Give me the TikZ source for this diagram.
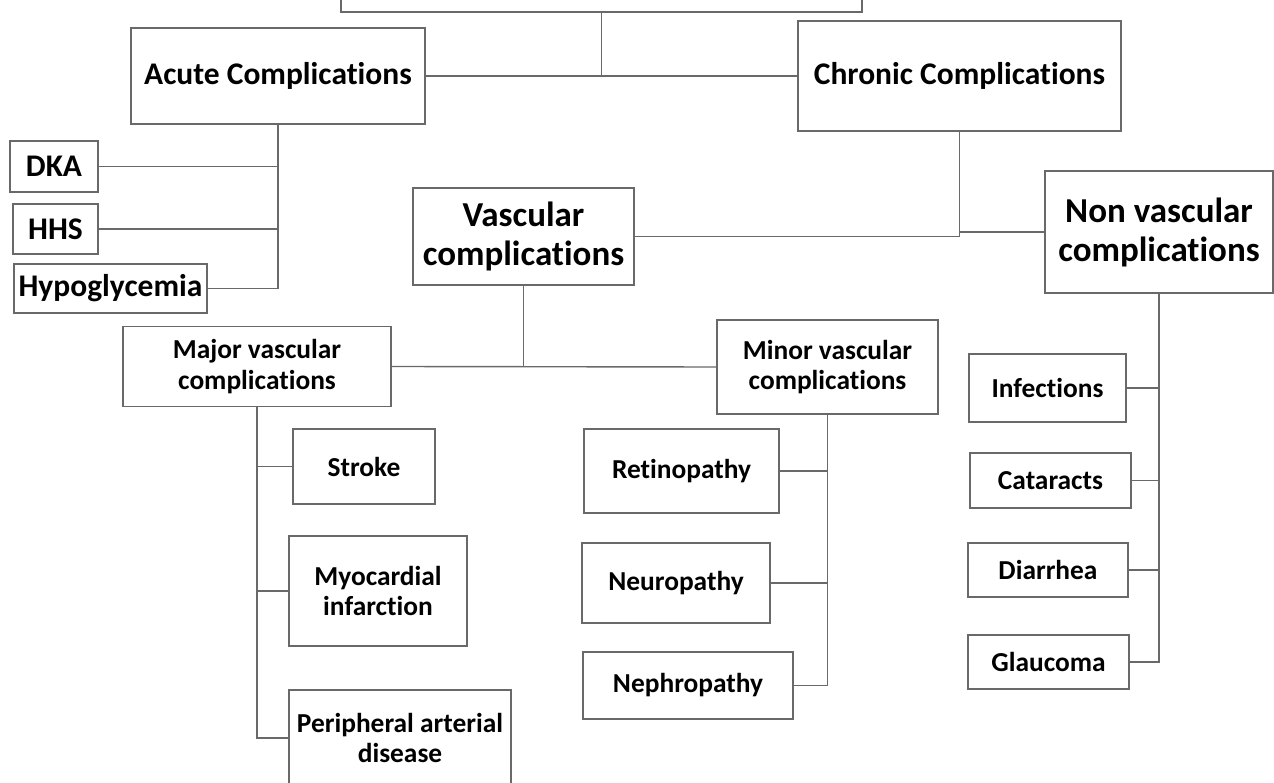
\documentclass[tikz,border=0pt]{standalone}
\usepackage{fontspec}
\setmainfont[Ligatures=NoCommon]{Carlito}
\definecolor{linec}{RGB}{105,105,105}
\begin{document}
\begin{tikzpicture}[x=1pt,y=-1pt,
  box/.style={draw=linec, line width=1.4pt, align=center, inner sep=0pt, text=black},
  fbig/.style={font=\bfseries\fontsize{35}{39}\selectfont},
  fmid/.style={font=\bfseries\fontsize{31.5}{35}\selectfont},
  fsml/.style={font=\bfseries\fontsize{27.4}{30.5}\selectfont},
  conn/.style={draw=linec, line width=1.4pt}]
\useasboundingbox (0,0) rectangle (1274,783);
% top box (cut off)
\node[box, minimum width=521pt, minimum height=112pt] (top) at (601.5,-44) {};
% level 1
\node[box, fmid, minimum width=294pt, minimum height=96pt] (acute) at (278,76) {Acute Complications};
\node[box, fmid, minimum width=323pt, minimum height=110pt] (chronic) at (959.5,76) {Chronic Complications};
% acute children
\node[box, fmid, minimum width=88pt, minimum height=51pt] (dka) at (54,166.5) {DKA};
\node[box, fmid, minimum width=85pt, minimum height=50pt] (hhs) at (55.5,229) {HHS};
\node[box, fmid, minimum width=193pt, minimum height=49pt] (hypo) at (110.5,288.5) {Hypoglycemia};
% chronic children
\node[box, fbig, minimum width=221pt, minimum height=97pt] (vasc) at (523.5,236.5) {Vascular\\complications};
\node[box, fbig, minimum width=228pt, minimum height=122pt] (nonvasc) at (1159,232) {Non vascular\\complications};
% vascular children
\node[box, fsml, minimum width=268pt, minimum height=80pt] (major) at (257,366.5) {Major vascular\\complications};
\node[box, fsml, minimum width=221pt, minimum height=94pt] (minor) at (827.5,367) {Minor vascular\\complications};
% major children
\node[box, fsml, minimum width=142pt, minimum height=75pt] (stroke) at (364,466.5) {Stroke};
\node[box, fsml, minimum width=178pt, minimum height=110pt] (myo) at (378,591) {Myocardial\\infarction};
\node[box, fsml, minimum width=222pt, minimum height=96pt] (pad) at (400,738) {Peripheral arterial\\disease};
% minor children
\node[box, fsml, minimum width=195pt, minimum height=84pt] (retino) at (681.5,471) {Retinopathy};
\node[box, fsml, minimum width=188pt, minimum height=80pt] (neuro) at (676,583) {Neuropathy};
\node[box, fsml, minimum width=210pt, minimum height=67pt] (nephro) at (688,685.5) {Nephropathy};
% non vascular children
\node[box, fsml, minimum width=157pt, minimum height=68pt] (infec) at (1047.5,388) {Infections};
\node[box, fsml, minimum width=161pt, minimum height=55pt] (catar) at (1050.5,480.5) {Cataracts};
\node[box, fsml, minimum width=160pt, minimum height=54pt] (diarr) at (1048,570) {Diarrhea};
\node[box, fsml, minimum width=161pt, minimum height=54pt] (glauc) at (1048.5,662) {Glaucoma};
% connectors
\draw[conn] (acute.east) -- (chronic.west);
\draw[conn] (top.south) -- (top.south |- acute.east);
\draw[conn] (acute.south) |- (hypo.east);
\draw[conn] (dka.east) -- (dka.east -| acute.south);
\draw[conn] (hhs.east) -- (hhs.east -| acute.south);
\draw[conn] (chronic.south) |- (vasc.east);
\draw[conn] (nonvasc.west) -- (nonvasc.west -| chronic.south);
\draw[conn] (major.east) -- (minor.west);
\draw[conn] (vasc.south) -- (vasc.south |- major.east);
\draw[conn] (major.south) |- (pad.west);
\draw[conn] (stroke.west) -- (stroke.west -| major.south);
\draw[conn] (myo.west) -- (myo.west -| major.south);
\draw[conn] (minor.south) |- (nephro.east);
\draw[conn] (retino.east) -- (retino.east -| minor.south);
\draw[conn] (neuro.east) -- (neuro.east -| minor.south);
\draw[conn] (nonvasc.south) |- (glauc.east);
\draw[conn] (infec.east) -- (infec.east -| nonvasc.south);
\draw[conn] (catar.east) -- (catar.east -| nonvasc.south);
\draw[conn] (diarr.east) -- (diarr.east -| nonvasc.south);
\end{tikzpicture}
\end{document}
